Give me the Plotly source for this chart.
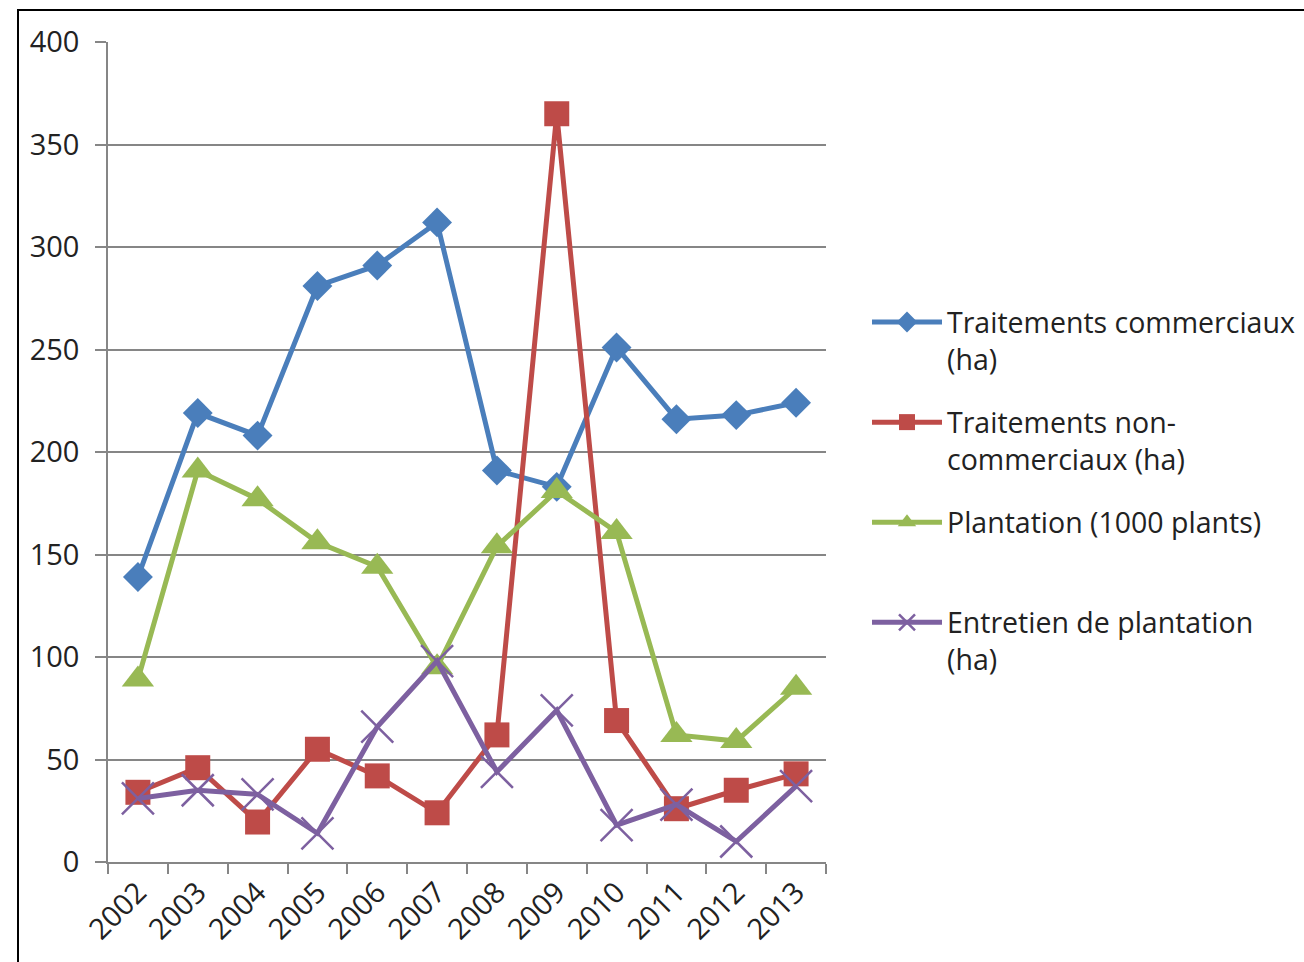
import plotly.graph_objects as go

years = ["2002", "2003", "2004", "2005", "2006", "2007", "2008", "2009", "2010", "2011", "2012", "2013"]
commerciaux = [139, 219, 208, 281, 291, 312, 191, 183, 251, 216, 218, 224]
non_commerciaux = [34, 46, 19.5, 55, 42, 24, 62, 365, 69, 26, 35, 43]
plantation = [89, 191, 177, 156, 144, 95, 154, 181, 161, 62, 59, 85]
entretien = [31, 35, 33, 14, 66, 98, 44, 74, 18, 28, 10, 37]

names = ["Traitements commerciaux<br>(ha)",
         "Traitements non-<br>commerciaux (ha)",
         "Plantation (1000 plants)<br> ",
         "Entretien de plantation<br>(ha)"]

FONT = "Open Sans"
FS = 29
LFS = 28.5
W, H = 1304, 962
L, R, T, B = 108, 826, 42, 862

fig = go.Figure()
fig.add_trace(go.Scatter(x=years, y=commerciaux, name=names[0], mode="lines+markers",
                         line=dict(color="#4A7EBB", width=5),
                         marker=dict(symbol="diamond", size=23, color="#4A7EBB"),
                         legendgroup="a"))
fig.add_trace(go.Scatter(x=years, y=non_commerciaux, name=names[1], mode="lines+markers",
                         line=dict(color="#BE4B48", width=5),
                         marker=dict(symbol="square", size=25, color="#BE4B48"),
                         legendgroup="b"))
fig.add_trace(go.Scatter(x=years, y=plantation, name=names[2], mode="lines+markers",
                         line=dict(color="#98B954", width=5),
                         marker=dict(symbol="triangle-up", size=28, color="#98B954"),
                         legendgroup="c"))
fig.add_trace(go.Scatter(x=years, y=entretien, name=names[3], mode="lines+markers",
                         line=dict(color="#7D60A0", width=5),
                         marker=dict(symbol="x-thin", size=32, color="#7D60A0",
                                     line=dict(width=2.5, color="#7D60A0")),
                         legendgroup="d"))

pw = R - L
ph = B - T
fig.add_shape(type="rect", xref="paper", yref="paper",
              x0=(18 - L) / pw, x1=(1320 - L) / pw,
              y0=(B - 980) / ph, y1=(B - 10) / ph,
              line=dict(color="black", width=2), fillcolor="rgba(0,0,0,0)", layer="below")

fig.update_layout(
    width=W, height=H,
    margin=dict(l=L, r=W - R, t=T, b=H - B, pad=0),
    paper_bgcolor="white", plot_bgcolor="white",
    font=dict(family=FONT, size=FS, color="#222222"),
    showlegend=True,
    legend=dict(xref="container", yref="container",
                x=867 / W, xanchor="left", y=1 - 297 / H, yanchor="top",
                itemwidth=70, valign="top", tracegroupgap=23,
                font=dict(family=FONT, size=LFS, color="#222222"),
                bgcolor="rgba(0,0,0,0)"),
)
fig.update_xaxes(type="category", showgrid=False, showline=True, linecolor="#868686", linewidth=1.5,
                 ticks="outside", tickson="boundaries", ticklen=10, tickcolor="#868686", tickwidth=1.5,
                 tickangle=-45, tickfont=dict(size=FS), range=[-0.5, 11.5])
fig.update_yaxes(range=[0, 400], dtick=50, showgrid=True, gridcolor="#868686", gridwidth=1.5,
                 showline=True, linecolor="#868686", linewidth=1.5,
                 ticks="outside", ticklen=11, tickcolor="#868686", tickwidth=1.5,
                 ticklabelstandoff=10,
                 tickfont=dict(size=FS), zeroline=False)

fig.write_html("out.html", config={"displayModeBar": False},
               post_script="document.body.style.margin='0';")
